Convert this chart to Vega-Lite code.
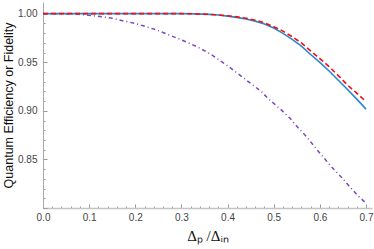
{
  "$schema": "https://vega.github.io/schema/vega-lite/v6.json",
  "width": 329,
  "height": 206,
  "autosize": {"type": "none"},
  "padding": {"left": 43, "top": 2, "right": 2, "bottom": 41},
  "background": "white",
  "config": {
    "view": {"stroke": null},
    "axis": {"grid": false, "labelFont": "Liberation Sans", "labelFontSize": 10, "labelColor": "#444444", "tickColor": "#999999", "titleFontWeight": "normal", "titleColor": "#111111"}
  },
  "datasets": {
    "curves": [
      {"s": "fid", "x": 0.0, "y": 1.0},
      {"s": "fid", "x": 0.035, "y": 1.0},
      {"s": "fid", "x": 0.078, "y": 0.9993},
      {"s": "fid", "x": 0.117, "y": 0.9975},
      {"s": "fid", "x": 0.148, "y": 0.9955},
      {"s": "fid", "x": 0.172, "y": 0.9928},
      {"s": "fid", "x": 0.202, "y": 0.9897},
      {"s": "fid", "x": 0.230, "y": 0.9856},
      {"s": "fid", "x": 0.248, "y": 0.9829},
      {"s": "fid", "x": 0.307, "y": 0.9716},
      {"s": "fid", "x": 0.335, "y": 0.9657},
      {"s": "fid", "x": 0.361, "y": 0.9589},
      {"s": "fid", "x": 0.383, "y": 0.952},
      {"s": "fid", "x": 0.404, "y": 0.945},
      {"s": "fid", "x": 0.426, "y": 0.937},
      {"s": "fid", "x": 0.448, "y": 0.929},
      {"s": "fid", "x": 0.474, "y": 0.9195},
      {"s": "fid", "x": 0.487, "y": 0.913},
      {"s": "fid", "x": 0.517, "y": 0.9007},
      {"s": "fid", "x": 0.535, "y": 0.8925},
      {"s": "fid", "x": 0.552, "y": 0.883},
      {"s": "fid", "x": 0.572, "y": 0.873},
      {"s": "fid", "x": 0.589, "y": 0.8627},
      {"s": "fid", "x": 0.607, "y": 0.8525},
      {"s": "fid", "x": 0.626, "y": 0.842},
      {"s": "fid", "x": 0.648, "y": 0.831},
      {"s": "fid", "x": 0.665, "y": 0.8217},
      {"s": "fid", "x": 0.683, "y": 0.8124},
      {"s": "fid", "x": 0.700, "y": 0.805},
      {"s": "blue", "x": 0.0, "y": 1.0},
      {"s": "blue", "x": 0.1, "y": 1.0},
      {"s": "blue", "x": 0.2, "y": 1.0},
      {"s": "blue", "x": 0.3, "y": 1.0},
      {"s": "blue", "x": 0.33, "y": 0.9998},
      {"s": "blue", "x": 0.36, "y": 0.9993},
      {"s": "blue", "x": 0.38, "y": 0.9986},
      {"s": "blue", "x": 0.40, "y": 0.9975},
      {"s": "blue", "x": 0.42, "y": 0.9962},
      {"s": "blue", "x": 0.44, "y": 0.9945},
      {"s": "blue", "x": 0.46, "y": 0.9923},
      {"s": "blue", "x": 0.48, "y": 0.9893},
      {"s": "blue", "x": 0.50, "y": 0.9852},
      {"s": "blue", "x": 0.52, "y": 0.9797},
      {"s": "blue", "x": 0.54, "y": 0.9735},
      {"s": "blue", "x": 0.56, "y": 0.9665},
      {"s": "blue", "x": 0.58, "y": 0.958},
      {"s": "blue", "x": 0.60, "y": 0.9498},
      {"s": "blue", "x": 0.62, "y": 0.941},
      {"s": "blue", "x": 0.64, "y": 0.9315},
      {"s": "blue", "x": 0.66, "y": 0.922},
      {"s": "blue", "x": 0.68, "y": 0.912},
      {"s": "blue", "x": 0.70, "y": 0.9018},
      {"s": "red", "x": 0.0, "y": 1.0},
      {"s": "red", "x": 0.1, "y": 1.0},
      {"s": "red", "x": 0.2, "y": 1.0},
      {"s": "red", "x": 0.3, "y": 1.0},
      {"s": "red", "x": 0.33, "y": 0.9998},
      {"s": "red", "x": 0.36, "y": 0.9993},
      {"s": "red", "x": 0.38, "y": 0.9987},
      {"s": "red", "x": 0.40, "y": 0.9978},
      {"s": "red", "x": 0.42, "y": 0.9967},
      {"s": "red", "x": 0.44, "y": 0.9953},
      {"s": "red", "x": 0.46, "y": 0.9933},
      {"s": "red", "x": 0.48, "y": 0.9905},
      {"s": "red", "x": 0.50, "y": 0.9866},
      {"s": "red", "x": 0.52, "y": 0.982},
      {"s": "red", "x": 0.54, "y": 0.9763},
      {"s": "red", "x": 0.56, "y": 0.9698},
      {"s": "red", "x": 0.58, "y": 0.9617},
      {"s": "red", "x": 0.60, "y": 0.9537},
      {"s": "red", "x": 0.62, "y": 0.9455},
      {"s": "red", "x": 0.64, "y": 0.9362},
      {"s": "red", "x": 0.66, "y": 0.9265},
      {"s": "red", "x": 0.68, "y": 0.9182},
      {"s": "red", "x": 0.70, "y": 0.9095}
    ]
  },
  "data": {"name": "curves"},
  "encoding": {
    "x": {
      "field": "x", "type": "quantitative",
      "scale": {"domain": [0, 0.713], "nice": false, "zero": false},
      "axis": {
        "title": "Δₚ /Δᵢₙ",
        "titleFont": "Liberation Serif",
        "titleFontSize": 15,
        "titlePadding": 6,
        "values": [0,0.02,0.04,0.06,0.08,0.1,0.12,0.14,0.16,0.18,0.2,0.22,0.24,0.26,0.28,0.3,0.32,0.34,0.36,0.38,0.4,0.42,0.44,0.46,0.48,0.5,0.52,0.54,0.56,0.58,0.6,0.62,0.64,0.66,0.68,0.7],
        "format": ".1f",
        "labelExpr": "abs(datum.value*10 - round(datum.value*10)) < 0.001 ? datum.label : ''",
        "tickSize": {"condition": {"test": "abs(datum.value*10 - round(datum.value*10)) < 0.001", "value": -4}, "value": -2},
        "labelPadding": 8,
        "domainColor": "#c4c4c4",
        "domainWidth": 1.6,
        "labelFlush": false
      }
    },
    "y": {
      "field": "y", "type": "quantitative",
      "scale": {"domain": [0.8, 1.012], "nice": false, "zero": false},
      "axis": {
        "title": "Quantum Efficiency or Fidelity",
        "titleFont": "Liberation Sans",
        "titleFontSize": 12.5,
        "titlePadding": 2,
        "values": [0.8,0.81,0.82,0.83,0.84,0.85,0.86,0.87,0.88,0.89,0.9,0.91,0.92,0.93,0.94,0.95,0.96,0.97,0.98,0.99,1.0],
        "format": ".2f",
        "labelExpr": "(abs(datum.value*20 - round(datum.value*20)) < 0.001 && datum.value > 0.81) ? datum.label : ''",
        "tickSize": {"condition": {"test": "abs(datum.value*20 - round(datum.value*20)) < 0.001", "value": -4}, "value": -2},
        "labelPadding": 10,
        "domainColor": "#a8a8a8",
        "domainWidth": 1,
        "labelFlush": false
      }
    }
  },
  "layer": [
    {
      "transform": [{"filter": "datum.s === 'fid'"}],
      "mark": {"type": "line", "color": "#7a48bf", "strokeWidth": 1.5, "strokeDash": [4, 3, 1, 3]}
    },
    {
      "transform": [{"filter": "datum.s === 'blue'"}],
      "mark": {"type": "line", "color": "#2c86d2", "strokeWidth": 1.6}
    },
    {
      "transform": [{"filter": "datum.s === 'red'"}],
      "mark": {"type": "line", "color": "#f01010", "strokeWidth": 1.6, "strokeDash": [5, 3]}
    }
  ]
}
